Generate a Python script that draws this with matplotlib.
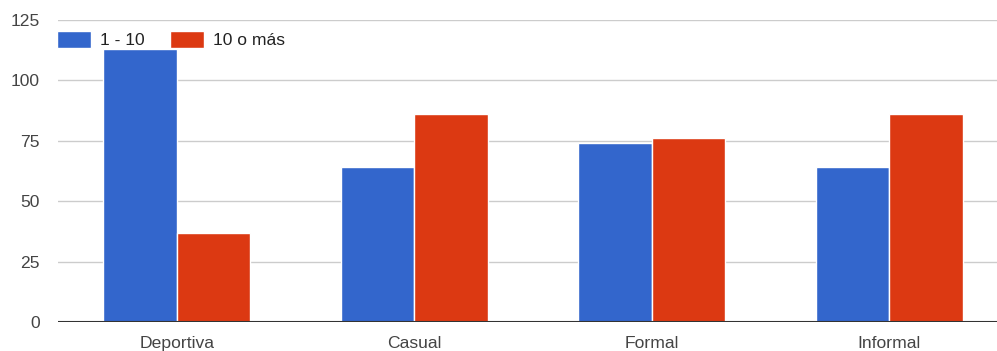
import numpy as np
import matplotlib
matplotlib.use('Agg')
import matplotlib.pyplot as plt

categorias = ['Deportiva', 'Casual', 'Formal', 'Informal']
serie_1_10 = [113, 64, 74, 64]
serie_10_mas = [37, 86, 76, 86]
etiquetas = ['1 - 10', '10 o más']
yticks = [0, 25, 50, 75, 100, 125]

plt.rcParams['font.family'] = ['Liberation Sans', 'DejaVu Sans']

W, H = 997, 351
fs = 12.6
fig = plt.figure(figsize=(W / 100, H / 100), dpi=100)
fig.patch.set_facecolor('white')

# eje: x 58 -> 1008 px (cortado a la derecha), y 20 -> 322 px
ax = fig.add_axes([58 / W, (H - 322) / H, 950 / W, (322 - 20) / H])
ax.set_facecolor('white')

x = np.arange(len(categorias))
w = 0.31
ax.bar(x - w / 2, serie_1_10, width=w, color='#3366cc', edgecolor='white',
       linewidth=1.0, label=etiquetas[0], zorder=3)
ax.bar(x + w / 2, serie_10_mas, width=w, color='#dc3912', edgecolor='white',
       linewidth=1.0, label=etiquetas[1], zorder=3)

ax.set_xlim(-0.5, len(categorias) - 0.5)
ax.set_ylim(0, 125)
ax.set_yticks(yticks)
ax.set_yticklabels([str(v) for v in yticks])
ax.set_xticks(x)
ax.set_xticklabels(categorias)

for v in yticks[1:]:
    ax.axhline(v, color='#cccccc', linewidth=1.0, zorder=1)
ax.axhline(0, color='#333333', linewidth=1.5, zorder=4)

for s in ax.spines.values():
    s.set_visible(False)
ax.tick_params(axis='both', length=0, labelsize=fs, colors='#444444')
ax.tick_params(axis='y', pad=13)
ax.tick_params(axis='x', pad=10)

fpx = fs * 100 / 72
leg = ax.legend(loc='upper left', bbox_to_anchor=(57 / W, 1 - 31 / H),
                bbox_transform=fig.transFigure, ncol=2, frameon=False,
                borderpad=0, borderaxespad=0, fontsize=fs,
                handlelength=34 / fpx, handleheight=1.12,
                handletextpad=9 / fpx, columnspacing=25 / fpx)
for t in leg.get_texts():
    t.set_color('#222222')

fig.savefig('out.png', dpi=100, facecolor='white')
